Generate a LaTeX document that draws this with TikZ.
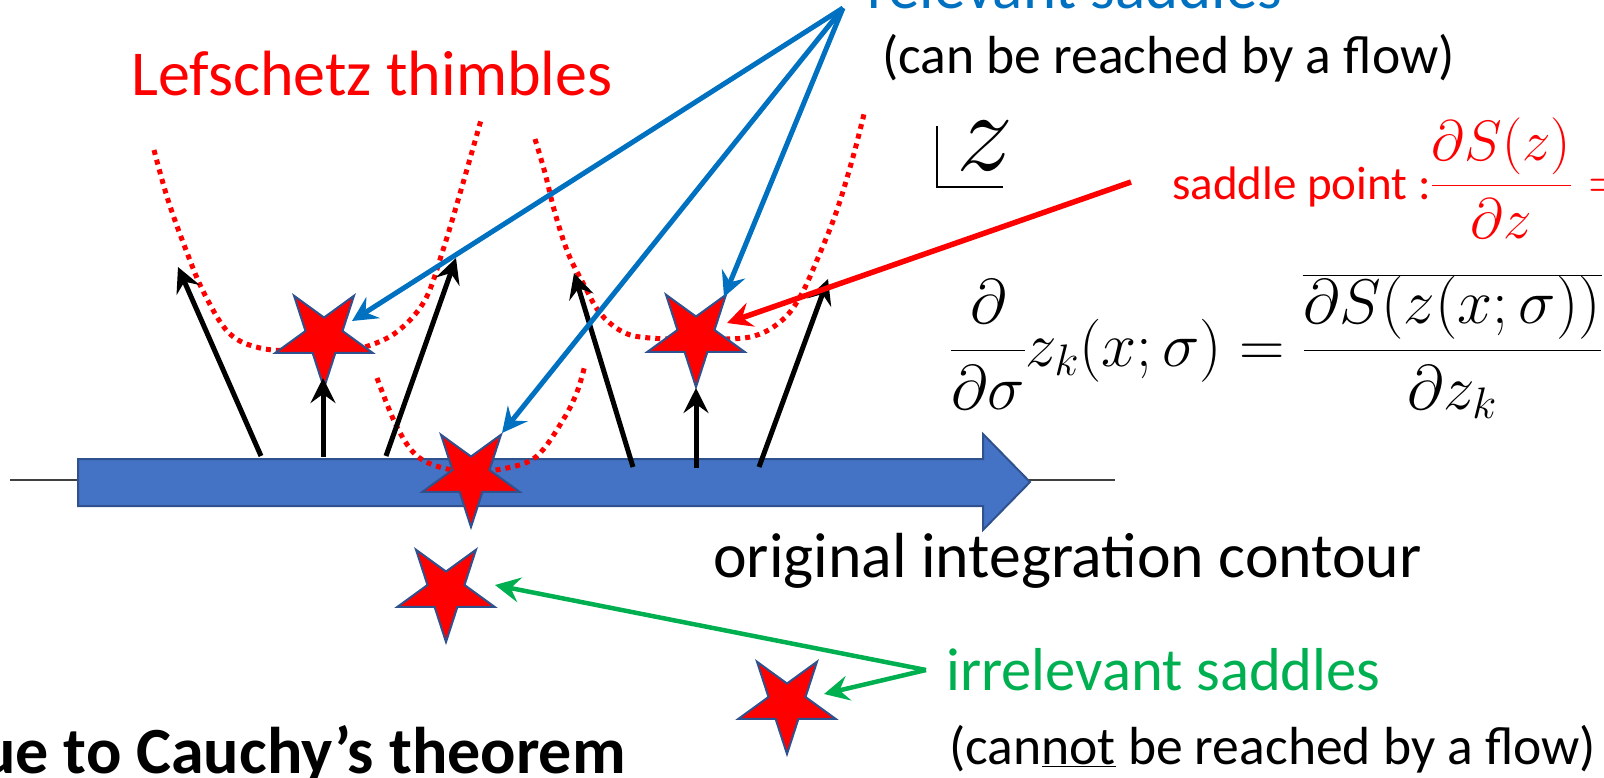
\RequirePackage{fix-cm}
\documentclass[tikz,border=0pt]{standalone}
\usepackage[no-math]{fontspec}
\setmainfont{Carlito}
\usetikzlibrary{arrows.meta,shapes.geometric}
\definecolor{cblue}{HTML}{0070C0}
\definecolor{cgreen}{HTML}{00B050}
\definecolor{cred}{HTML}{FF0000}
\definecolor{cfill}{HTML}{4472C4}
\definecolor{cedge}{HTML}{2F528F}
\tikzset{
  fs/.style={font=\fontsize{#1}{#1}\selectfont},
  txt/.style={inner sep=0pt, anchor=base west},
  saddle/.style={star, star points=5, star point ratio=2.618, minimum size=102pt,
    inner sep=0pt, fill=cred, draw=cedge, line width=2pt, shape border rotate=180},
  thimble/.style={draw=cred, line width=5pt, dash pattern=on 5pt off 5pt},
  headtip/.style={-{Stealth[length=25pt,width=25pt,inset=9pt]}},
  flowarrow/.style={headtip, line width=5pt, black},
  bluearrow/.style={headtip, line width=5pt, draw=cblue},
  redarrow/.style={headtip, line width=5.5pt, draw=cred},
  greenarrow/.style={headtip, line width=4.5pt, draw=cgreen},
}
\begin{document}
\begin{tikzpicture}[x=1pt,y=-1pt]
\useasboundingbox (0,0) rectangle (1604,777);
\clip (0,0) rectangle (1604,777);
% thin real axis
\coordinate (axL) at (10,480);
\coordinate (axR) at (1115,480);
\draw[line width=1.5pt, black!75] (axL) -- (axR);
% original contour (block arrow)
\filldraw[fill=cfill, draw=cedge, line width=2pt]
  (78,459) -- (983,459) -- (983,434) -- (1030,482) -- (983,530) -- (983,506) -- (78,506) -- cycle;
% thimbles
\draw[thimble] plot[smooth, tension=0.6] coordinates {(154,150) (168,200) (186,250) (204,293) (229,333) (260,348) (300,351) (340,351) (368,346) (398,331) (425,300) (443,250) (461,190) (481,120)};
\draw[thimble] plot[smooth, tension=0.6] coordinates {(377,378) (396,425) (416,455) (443,468) (475,471) (507,468) (537,456) (563,420) (577,392) (585,365)};
\draw[thimble] plot[smooth, tension=0.6] coordinates {(535,139) (545,173) (555,213) (568,253) (583,283) (600,313) (623,332) (650,338) (700,339) (750,337) (780,322) (800,297) (820,253) (837,210) (853,157) (865,110)};
% saddles
\node[saddle] (sA) at (324,337) {};
\node[saddle] (sB) at (471,476) {};
\node[saddle] (sC) at (696,336) {};
\node[saddle] (sD) at (446,591) {};
\node[saddle] (sE) at (787,703) {};
% flows
\coordinate (f1) at (261,456); \coordinate (t1) at (178,267);
\coordinate (f2) at (323,457); \coordinate (t2) at (323,378);
\coordinate (f3) at (386,456); \coordinate (t3) at (456,258);
\coordinate (f4) at (633,467); \coordinate (t4) at (574,273);
\coordinate (f5) at (696,468); \coordinate (t5) at (696,388);
\coordinate (f6) at (759,467); \coordinate (t6) at (828,279);
\foreach \i in {1,...,6} {\draw[flowarrow] (f\i) -- (t\i);}
% labels
\node[txt, fs=64, text=cred] (lt) at (131,95) {Lefschetz thimbles};
\node[txt, fs=63, text=cblue] (rel) at (867,8) {relevant saddles};
\node[txt, fs=53.6] (can) at (882,73) {(can be reached by a flow)};
\node[txt, fs=63.7] (orig) at (713,577) {original integration contour};
\node[txt, fs=60.6, text=cgreen] (irr) at (946,690) {irrelevant saddles};
\node[txt, fs=53.6] (cannot) at (949,764) {(can\underline{not} be reached by a flow)};
\node[inner sep=0pt, anchor=base east, fs=66] (cauchy) at (626,773) {\bfseries Due to Cauchy’s theorem};
% z plane mark
\draw[line width=1.5pt] (937,126) -- (937,187) -- (1003,187);
\node[inner sep=0pt, anchor=base, fs=114] (zl) at (985,170) {$z$};
% saddle point condition
\node[txt, text=cred] (sp) at (1172,199) {\fontsize{47}{50}\selectfont saddle point :\fontsize{57}{60}\selectfont$\displaystyle\frac{\partial S(z)}{\partial z}=$};
% flow equation
\node[txt, fs=63] (eq) at (950,366) {$\displaystyle\frac{\partial}{\partial\sigma}z_k(x;\sigma)=\overline{\frac{\partial S(z(x;\sigma))}{\partial z_k}}$};
% connectors
\coordinate (apex) at (843,8);
\draw[bluearrow] (apex) -- ([shift={(28,-16)}]sA.center);
\draw[bluearrow] (apex) -- ([shift={(31,-43)}]sB.center);
\draw[bluearrow] (apex) -- ([shift={(28,-39)}]sC.center);
\coordinate (redstart) at (1131,182);
\draw[redarrow] (redstart) -- ([shift={(31,-13)}]sC.center);
\coordinate (gstart) at (926,670);
\draw[greenarrow] (gstart) -- ([shift={(49,-6)}]sD.center);
\draw[greenarrow] (gstart) -- ([shift={(37,-9)}]sE.center);
\end{tikzpicture}
\end{document}
